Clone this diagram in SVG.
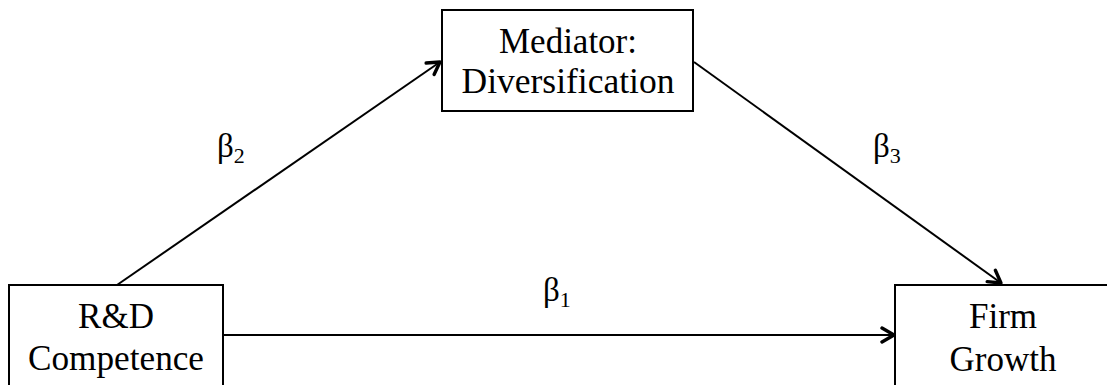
<svg xmlns="http://www.w3.org/2000/svg" width="1107" height="385" viewBox="0 0 1107 385">
<style>
.box{fill:#fff;stroke:#000;stroke-width:2}
.t{font-family:'Liberation Serif','Times New Roman',Times,'DejaVu Serif',serif;font-size:35px;fill:#000;text-anchor:middle}
.b{font-family:'Liberation Serif','Times New Roman',Times,'DejaVu Serif',serif;font-size:33px;fill:#000}
.s{font-size:22px}
.c{stroke:#000;stroke-width:2;fill:none;marker-end:url(#ah)}
</style>
<defs>
<marker id="ah" viewBox="0 0 20 20" refX="18" refY="10" markerWidth="20" markerHeight="20" markerUnits="userSpaceOnUse" orient="auto">
<path d="M6,3 L18,10 L6,17" fill="none" stroke="#000" stroke-width="3.4" stroke-linecap="round" stroke-linejoin="round"/>
</marker>
</defs>
<rect width="1107" height="385" fill="#fff"/>
<g id="connectors">
<line class="c" x1="117" y1="285" x2="440" y2="62"/>
<line class="c" x1="224" y1="335" x2="894" y2="335"/>
<line class="c" x1="694" y1="62" x2="1001" y2="283"/>
</g>
<g id="labels">
<text class="b" x="217" y="157">β<tspan class="s" dy="6">2</tspan></text>
<text class="b" x="873" y="157">β<tspan class="s" dy="6">3</tspan></text>
<text class="b" x="543" y="301">β<tspan class="s" dy="6">1</tspan></text>
</g>
<g id="node-rd">
<rect class="box" x="9" y="285" width="214" height="120"/>
<text class="t" x="116" y="328">R&amp;D</text>
<text class="t" x="116" y="370" textLength="176" lengthAdjust="spacingAndGlyphs">Competence</text>
</g>
<g id="node-mediator">
<rect class="box" x="442" y="10" width="251" height="101"/>
<text class="t" x="568" y="53">Mediator:</text>
<text class="t" x="568" y="93" textLength="213" lengthAdjust="spacingAndGlyphs">Diversification</text>
</g>
<g id="node-firm">
<rect class="box" x="895" y="285" width="230" height="120"/>
<text class="t" x="1003" y="328">Firm</text>
<text class="t" x="1003" y="371">Growth</text>
</g>
</svg>
